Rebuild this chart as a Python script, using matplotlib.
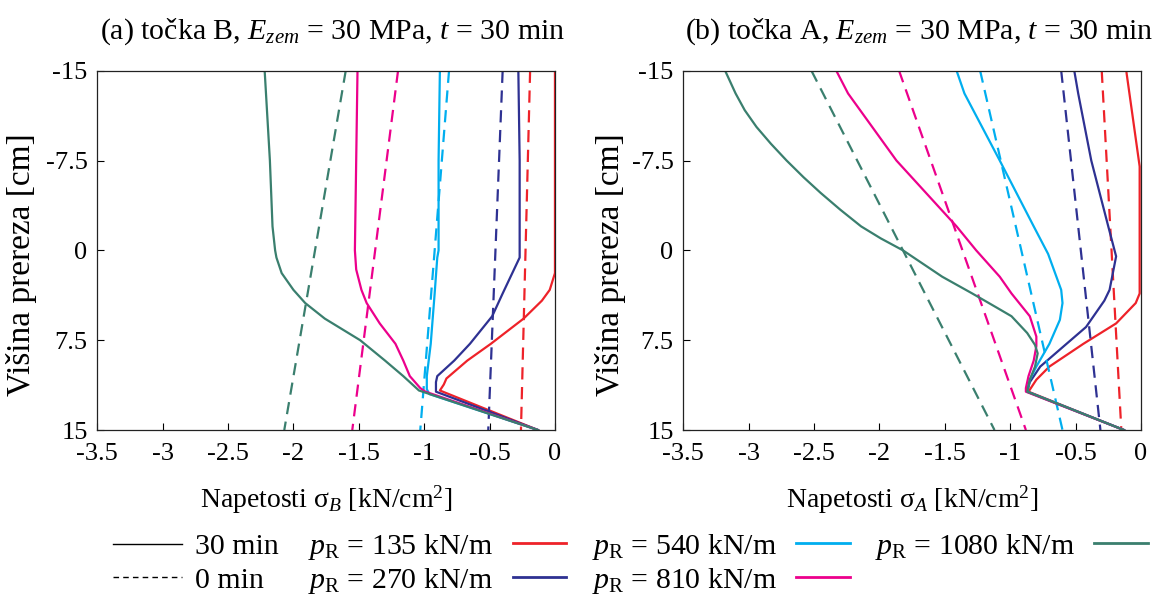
import numpy as np
import matplotlib.pyplot as plt
from matplotlib.lines import Line2D

plt.rcParams['font.family'] = ['Liberation Serif', 'DejaVu Serif']
plt.rcParams['mathtext.fontset'] = 'custom'
plt.rcParams['mathtext.rm'] = 'Liberation Serif'
plt.rcParams['mathtext.it'] = 'Liberation Serif:italic'
plt.rcParams['mathtext.bf'] = 'Liberation Serif:bold'

loads = [135, 270, 540, 810, 1080]
colors = ['#EE2229', '#2E3192', '#00AEEF', '#EC008C', '#3A7F6E']

y_ticks = [-15, -7.5, 0, 7.5, 15]
y_ticklabels = ['-15', '-7.5', '0', '7.5', '15']
x_ticks = [-3.5, -3, -2.5, -2, -1.5, -1, -0.5, 0]
x_ticklabels = ['-3.5', '-3', '-2.5', '-2', '-1.5', '-1', '-0.5', '0']

# ---- tocka B, t = 30 min (solid) ----
yB_135 = [-15, 1.9, 3.3, 4.2, 5.7, 7.8, 9.2, 10.7, 11.2, 11.7, 15]
xB_135 = [0, 0, -0.04, -0.10, -0.24, -0.49, -0.67, -0.83, -0.85, -0.88, -0.13]
yB_270 = [-15, -7.5, 0, 0.6, 3.6, 5.5, 7.8, 9.2, 10.5, 11.0, 11.8, 15]
xB_270 = [-0.28, -0.27, -0.27, -0.27, -0.40, -0.48, -0.65, -0.77, -0.90, -0.91, -0.91, -0.13]
yB_540 = [-15, -7.5, 0, 0.6, 3.6, 7.8, 10.5, 11.6, 12, 15]
xB_540 = [-0.88, -0.89, -0.89, -0.90, -0.92, -0.95, -0.98, -0.98, -0.96, -0.13]
yB_810 = [-15, -7.5, 0, 1.6, 3.3, 4.4, 6.1, 7.8, 9.2, 10.5, 11.5, 11.8, 15]
xB_810 = [-1.51, -1.52, -1.53, -1.52, -1.48, -1.44, -1.34, -1.22, -1.16, -1.11, -1.03, -0.99, -0.13]
yB_1080 = [-15, -7.5, -2, 0, 0.6, 1.9, 3.3, 4.4, 5.7, 7.5, 9.2, 10.5, 11.7, 15]
xB_1080 = [-2.22, -2.18, -2.16, -2.14, -2.13, -2.09, -2.00, -1.91, -1.76, -1.49, -1.30, -1.16, -1.04, -0.13]

# ---- tocka B, t = 0 min (dashed, linear) ----
y_lin = [-15, 15]
xB0_135 = [-0.19, -0.26]
xB0_270 = [-0.40, -0.51]
xB0_540 = [-0.81, -1.03]
xB0_810 = [-1.20, -1.55]
xB0_1080 = [-1.60, -2.07]

# ---- tocka A, t = 30 min (solid) ----
yA_135 = [-14.8, -7.0, 3.6, 4.4, 6.1, 7.8, 9.7, 10.8, 11.8, 15]
xA_135 = [-0.11, -0.01, -0.01, -0.04, -0.19, -0.44, -0.70, -0.80, -0.86, -0.13]
yA_270 = [-15, -13.1, -7.5, -2.0, 0.5, 3.3, 4.2, 6.4, 8.0, 9.7, 11.0, 11.8, 15]
xA_270 = [-0.51, -0.48, -0.38, -0.25, -0.19, -0.24, -0.28, -0.42, -0.59, -0.77, -0.85, -0.87, -0.13]
yA_540 = [-15, -13.1, -7.5, -2.0, 0.3, 3.3, 4.4, 5.8, 7.8, 9.7, 10.8, 11.8, 15]
xA_540 = [-1.41, -1.35, -1.08, -0.82, -0.71, -0.61, -0.60, -0.62, -0.70, -0.80, -0.85, -0.87, -0.13]
yA_810 = [-15, -13.1, -7.5, -2.0, 0, 2.2, 3.6, 5.5, 7.2, 8.0, 9.2, 10.5, 11.5, 11.8, 15]
xA_810 = [-2.33, -2.24, -1.87, -1.41, -1.26, -1.08, -0.99, -0.85, -0.80, -0.80, -0.82, -0.86, -0.88, -0.88, -0.13]
yA_1080 = [-15, -13.1, -11.7, -10.3, -8.9, -7.5, -6.1, -4.8, -3.4, -2.0, -1.0, 0, 1.1, 2.2, 3.6, 4.8, 5.5, 6.9, 7.9, 8.6, 9.7, 10.8, 11.8, 15]
xA_1080 = [-3.18, -3.10, -3.03, -2.94, -2.83, -2.71, -2.58, -2.45, -2.30, -2.14, -1.99, -1.82, -1.67, -1.52, -1.29, -1.10, -0.99, -0.87, -0.81, -0.79, -0.81, -0.85, -0.87, -0.13]

# ---- tocka A, t = 0 min (dashed, linear) ----
xA0_135 = [-0.30, -0.15]
xA0_270 = [-0.61, -0.31]
xA0_540 = [-1.23, -0.60]
xA0_810 = [-1.85, -0.88]
xA0_1080 = [-2.52, -1.12]

solid_B = [(xB_135, yB_135), (xB_270, yB_270), (xB_540, yB_540), (xB_810, yB_810), (xB_1080, yB_1080)]
dash_B = [xB0_135, xB0_270, xB0_540, xB0_810, xB0_1080]
solid_A = [(xA_135, yA_135), (xA_270, yA_270), (xA_540, yA_540), (xA_810, yA_810), (xA_1080, yA_1080)]
dash_A = [xA0_135, xA0_270, xA0_540, xA0_810, xA0_1080]

fig = plt.figure(figsize=(11.54, 5.97), dpi=100)
ax1 = fig.add_axes([0.0843, 0.2797, 0.3966, 0.6019])
ax2 = fig.add_axes([0.5921, 0.2797, 0.3966, 0.6019])

panels = [
    (ax1, solid_B, dash_B, r'(a) točka B, $E_{zem}$ = 30 MPa, $t$ = 30 min',
     r'Napetosti σ$_B$ [kN/cm$^2$]', -0.132),
    (ax2, solid_A, dash_A, r'(b) točka A, $E_{zem}$ = 30 MPa, $t$ = 30 min',
     r'Napetosti σ$_A$ [kN/cm$^2$]', -0.125),
]

for ax, solid, dashed, title, xlabel, ylx in panels:
    for (xs, ys), xd, c in zip(solid, dashed, colors):
        ax.plot(xd, y_lin, color=c, lw=1.6, dashes=(5.5, 3.4))
        ax.plot(xs, ys, color=c, lw=1.6)
    ax.set_xlim(-3.5, 0)
    ax.set_ylim(15, -15)
    ax.set_xticks(x_ticks)
    ax.set_xticklabels(x_ticklabels)
    ax.set_yticks(y_ticks)
    ax.set_yticklabels(y_ticklabels)
    ax.tick_params(direction='in', length=5, width=0.8, labelsize=19, pad=7)
    ax.tick_params(axis='x', pad=9)
    for s in ax.spines.values():
        s.set_linewidth(0.9)
        s.set_color('#222222')
    ax.set_title(title, fontsize=21.5, pad=23, x=0.515)
    ax.set_xlabel(xlabel, fontsize=20)
    ax.xaxis.set_label_coords(0.5, -0.15)
    ax.set_ylabel('Višina prereza [cm]', fontsize=24)
    ax.yaxis.set_label_coords(ylx, 0.46)

# legend: line styles
style_handles = [Line2D([], [], color='black', lw=1.0),
                 Line2D([], [], color='black', lw=1.0, dashes=(4, 3))]
leg1 = fig.legend(style_handles, ['30 min', '0 min'], loc='center left',
                  bbox_to_anchor=(0.098, 0.056), frameon=False, fontsize=21.5,
                  handlelength=2.3, handletextpad=0.45, borderpad=0,
                  borderaxespad=0, labelspacing=0.22)

# legend: loads
load_handles = [Line2D([], [], color=c, lw=2.0) for c in colors]
load_labels = [r'$p_\mathrm{R}$ = %d kN/m' % p for p in loads]
leg2 = fig.legend(load_handles, load_labels, loc='center left',
                  bbox_to_anchor=(0.267, 0.056), frameon=False, fontsize=21.5,
                  ncol=3, markerfirst=False, handlelength=1.8,
                  handletextpad=0.65, columnspacing=0.85, borderpad=0,
                  borderaxespad=0, labelspacing=0.13)

fig.savefig('out.png', dpi=100)
